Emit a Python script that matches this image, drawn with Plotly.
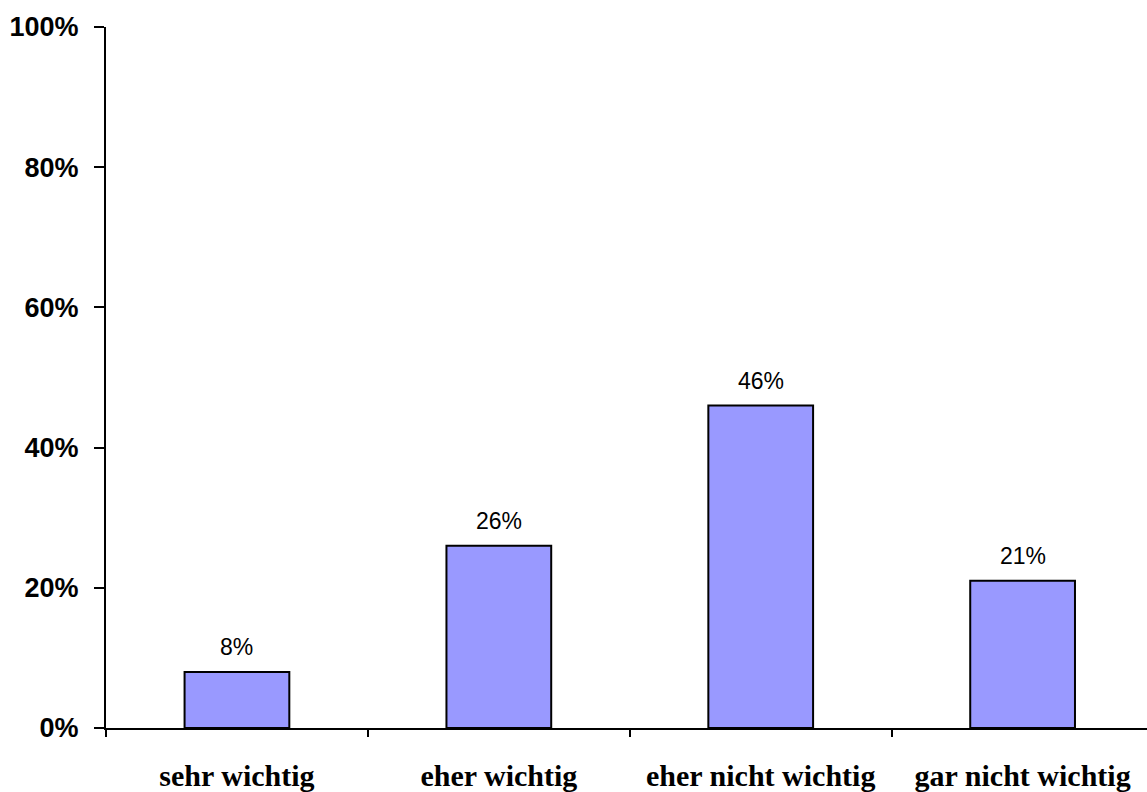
import plotly.graph_objects as go

categories = ["sehr wichtig", "eher wichtig", "eher nicht wichtig", "gar nicht wichtig"]
shares = [0.08, 0.26, 0.46, 0.21]
value_labels = ["8%", "26%", "46%", "21%"]
y_ticks = [0, 0.2, 0.4, 0.6, 0.8, 1.0]
y_tick_labels = ["0%", "20%", "40%", "60%", "80%", "100%"]

fig = go.Figure()
fig.add_trace(go.Bar(
    x=categories,
    y=shares,
    width=0.4,
    marker=dict(color="#9999FF", line=dict(color="black", width=2)),
    hoverinfo="skip",
))

for cat, val, lab in zip(categories, shares, value_labels):
    fig.add_annotation(
        x=cat, y=val, text=lab, showarrow=False,
        yanchor="bottom", yshift=10,
        font=dict(family="Liberation Sans, Arial", size=23, color="black"),
    )

fig.update_layout(
    width=1147, height=792,
    margin=dict(l=106, r=0, t=27, b=64),
    plot_bgcolor="white", paper_bgcolor="white",
    showlegend=False,
    xaxis=dict(
        type="category",
        range=[-0.5, 3.475],
        automargin=False,
        showline=True, linecolor="black", linewidth=2,
        ticks="outside", tickson="boundaries", ticklen=7, tickwidth=2, tickcolor="black",
        ticklabelstandoff=20,
        tickfont=dict(family="Liberation Serif, Times New Roman", size=30, color="black", weight="bold"),
        showgrid=False, zeroline=False,
    ),
    yaxis=dict(
        range=[0, 1],
        automargin=False,
        tickvals=y_ticks, ticktext=y_tick_labels,
        showline=True, linecolor="black", linewidth=2,
        ticks="outside", ticklen=10, tickwidth=2, tickcolor="black",
        ticklabelstandoff=10,
        tickfont=dict(family="Liberation Sans, Arial", size=27, color="black", weight="bold"),
        showgrid=False, zeroline=False,
    ),
)

fig.write_html("out.html")
